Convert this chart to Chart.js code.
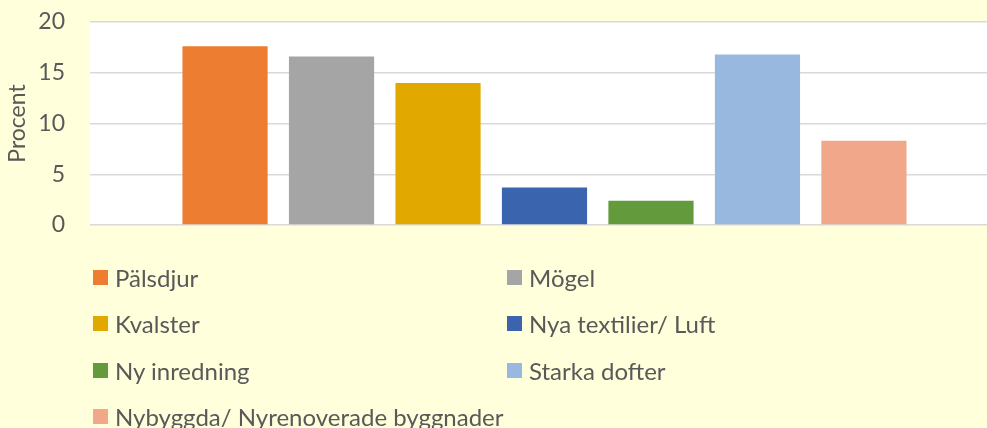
<!DOCTYPE html>
<html>
<head>
<meta charset="utf-8">
<script src="https://cdn.jsdelivr.net/npm/chart.js@4.4.1/dist/chart.umd.min.js"></script>
<style>
  html, body { margin: 0; padding: 0; width: 987px; height: 428px; overflow: hidden; background: #FFFFDC; }
  #wrap { position: absolute; left: 0; top: 0; width: 999px; height: 428px; }
  #legend { position: absolute; left: 0; top: 0; width: 987px; height: 428px; pointer-events: none;
            font-family: Lato, "Open Sans", sans-serif; font-size: 24px; color: #595959; }
  .item { position: absolute; display: flex; align-items: center; height: 30px; white-space: nowrap; }
  .sw { width: 15px; height: 15px; margin-right: 7px; flex: none; }
</style>
</head>
<body>
<div id="wrap"><canvas id="c"></canvas></div>
<div id="legend"></div>
<script>
const categories = [""];
const seriesNames = ["Pälsdjur", "Mögel", "Kvalster", "Nya textilier/ Luft", "Ny inredning", "Starka dofter", "Nybyggda/ Nyrenoverade byggnader"];
const seriesValues = [17.6, 16.6, 14.0, 3.7, 2.4, 16.8, 8.3];
const seriesColors = ["#ED7D31", "#A5A5A5", "#E1A900", "#3B64AE", "#629A3C", "#99B8DF", "#F1A88A"];
const yTicks = [0, 5, 10, 15, 20];
const yTitle = "Procent";

const textColor = "#595959";
const fontFamily = "Lato, 'Open Sans', sans-serif";

const plotBg = {
  id: 'plotBg',
  beforeDraw(chart) {
    const {ctx, chartArea: a} = chart;
    ctx.save();
    ctx.fillStyle = '#FFFFFF';
    ctx.fillRect(a.left, a.top, a.right - a.left, a.bottom - a.top);
    ctx.restore();
  }
};

new Chart(document.getElementById('c'), {
  type: 'bar',
  data: {
    labels: categories,
    datasets: seriesNames.map((n, i) => ({
      label: n,
      data: [seriesValues[i]],
      backgroundColor: seriesColors[i],
      borderWidth: 0,
      categoryPercentage: 0.82,
      barPercentage: 0.8
    }))
  },
  options: {
    responsive: true,
    maintainAspectRatio: false,
    animation: false,
    layout: { padding: { left: 0, right: 0, top: 0, bottom: 203 } },
    plugins: { legend: { display: false }, tooltip: { enabled: false } },
    scales: {
      x: { display: false },
      y: {
        min: 0, max: 20,
        afterBuildTicks(scale) { scale.ticks = yTicks.map(v => ({ value: v })); },
        afterFit(scale) { scale.width = 90; scale.paddingTop = 22; scale.paddingBottom = 0; },
        border: { display: false },
        grid: { color: '#D9D9D9', lineWidth: 1.5, drawTicks: false },
        ticks: { color: textColor, font: { family: fontFamily, size: 23 }, padding: 25 },
        title: { display: true, text: yTitle, color: textColor, font: { family: fontFamily, size: 23 }, padding: { top: 4, bottom: 0 } }
      }
    }
  },
  plugins: [plotBg]
});

const legendPos = [[93, 277], [507, 277], [93, 323], [507, 323], [93, 370], [507, 370], [93, 416]];
const lg = document.getElementById('legend');
seriesNames.forEach((n, i) => {
  const d = document.createElement('div');
  d.className = 'item';
  d.style.left = legendPos[i][0] + 'px';
  d.style.top = (legendPos[i][1] - 15) + 'px';
  const s = document.createElement('span');
  s.className = 'sw';
  s.style.background = seriesColors[i];
  const t = document.createElement('span');
  t.textContent = n;
  d.appendChild(s); d.appendChild(t);
  lg.appendChild(d);
});
</script>
</body>
</html>
